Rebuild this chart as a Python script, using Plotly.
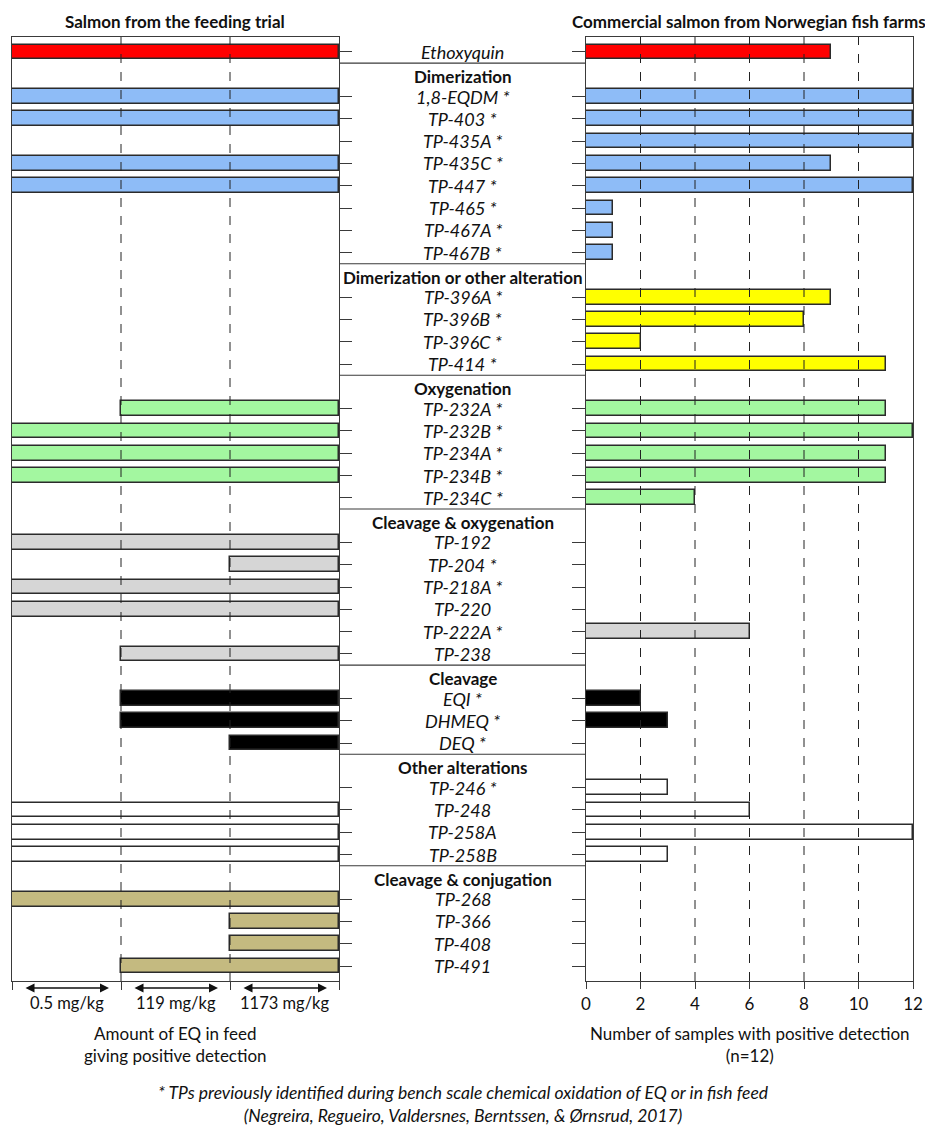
import plotly.graph_objects as go

# ---------------- data ----------------
group_names = ["", "Dimerization", "Dimerization or other alteration", "Oxygenation",
               "Cleavage & oxygenation", "Cleavage", "Other alterations", "Cleavage & conjugation"]
group_colors = ["#FF0000", "#8EBCF7", "#FFFF00", "#A3F7A0", "#D6D6D6", "#000000", "#FFFFFF", "#C4BA80"]

compounds = ["Ethoxyquin",
             "1,8-EQDM *", "TP-403 *", "TP-435A *", "TP-435C *", "TP-447 *", "TP-465 *", "TP-467A *", "TP-467B *",
             "TP-396A *", "TP-396B *", "TP-396C *", "TP-414 *",
             "TP-232A *", "TP-232B *", "TP-234A *", "TP-234B *", "TP-234C *",
             "TP-192", "TP-204 *", "TP-218A *", "TP-220", "TP-222A *", "TP-238",
             "EQI *", "DHMEQ *", "DEQ *",
             "TP-246 *", "TP-248", "TP-258A", "TP-258B",
             "TP-268", "TP-366", "TP-408", "TP-491"]
compound_group = [0,
                  1, 1, 1, 1, 1, 1, 1, 1,
                  2, 2, 2, 2,
                  3, 3, 3, 3, 3,
                  4, 4, 4, 4, 4, 4,
                  5, 5, 5,
                  6, 6, 6, 6,
                  7, 7, 7, 7]

# lowest feed level (index into dose_labels) giving positive detection; None = not detected
dose_labels = ["0.5 mg/kg", "119 mg/kg", "1173 mg/kg"]
lowest_dose = [0,
               0, 0, None, 0, 0, None, None, None,
               None, None, None, None,
               1, 0, 0, 0, None,
               0, 2, 0, 0, None, 1,
               1, 1, 2,
               None, 0, 0, 0,
               0, 2, 2, 1]

# number of commercial samples with positive detection (n=12)
farm_positive = [9,
                 12, 12, 12, 9, 12, 1, 1, 1,
                 9, 8, 2, 11,
                 11, 12, 11, 11, 4,
                 0, 0, 0, 0, 6, 0,
                 2, 3, 0,
                 3, 6, 12, 3,
                 0, 0, 0, 0]
n_samples = 12
farm_ticks = [0, 2, 4, 6, 8, 10, 12]

# ---------------- layout helpers ----------------
W, H = 925, 1127
FONT = "Lato"
LINE = "#3a3a3a"


def sx(x):
    return x / W


def sy(y):
    return 1 - y / H


# assign row slots: a header row precedes each group (except the first)
slots, header_slots, sep_slots = [], [], []
pos = 0
prev = None
for g in compound_group:
    if prev is not None and g != prev:
        sep_slots.append(pos - 0.5)
        header_slots.append((pos, group_names[g]))
        pos += 1
    slots.append(pos)
    pos += 1
    prev = g
n_slots = pos
yrange = [n_slots - 1 + 0.67, -0.67]

bar_colors = [group_colors[g] for g in compound_group]

fig = go.Figure()

# left panel bars
lx, lb, ly, lc = [], [], [], []
for s, d, c in zip(slots, lowest_dose, bar_colors):
    if d is not None:
        lx.append(len(dose_labels) - d)
        lb.append(d)
        ly.append(s)
        lc.append(c)
fig.add_trace(go.Bar(x=lx, base=lb, y=ly, orientation="h", width=0.66,
                     marker=dict(color=lc, line=dict(color="#2b2b2b", width=1.5)),
                     xaxis="x", yaxis="y", showlegend=False, hoverinfo="skip"))

# right panel bars
rx, ry, rc = [], [], []
for s, v, c in zip(slots, farm_positive, bar_colors):
    if v > 0:
        rx.append(v)
        ry.append(s)
        rc.append(c)
fig.add_trace(go.Bar(x=rx, y=ry, orientation="h", width=0.66,
                     marker=dict(color=rc, line=dict(color="#2b2b2b", width=1.5)),
                     xaxis="x2", yaxis="y2", showlegend=False, hoverinfo="skip"))

PANEL_TOP, PANEL_BOT = 37, 981
ydom = [sy(PANEL_BOT), sy(PANEL_TOP)]
L0, L1 = sx(12), sx(339)
R0, R1 = sx(586), sx(913)

axis_common = dict(showgrid=False, zeroline=False, showline=True, mirror=True, automargin=False,
                   linecolor=LINE, linewidth=1.2, tickcolor=LINE, tickwidth=1.2)

fig.update_layout(
    width=W, height=H, margin=dict(l=0, r=0, t=0, b=0, autoexpand=False),
    paper_bgcolor="white", plot_bgcolor="white", bargap=0,
    font=dict(family=FONT, color="#111", size=17),
    xaxis=dict(domain=[L0, L1], range=[0, len(dose_labels)],
               tickvals=list(range(len(dose_labels) + 1)), showticklabels=False,
               ticks="outside", ticklen=8, anchor="y", **axis_common),
    yaxis=dict(domain=ydom, range=yrange, tickvals=slots, showticklabels=False,
               ticks="outside", ticklen=12, side="right", anchor="x", **axis_common),
    xaxis2=dict(domain=[R0, R1], range=[0, n_samples], tickvals=farm_ticks,
                ticks="outside", ticklen=7, tickfont=dict(size=17, family=FONT),
                anchor="y2", **axis_common),
    yaxis2=dict(domain=ydom, range=yrange, tickvals=slots, showticklabels=False,
                ticks="outside", ticklen=13, side="left", anchor="x2", **axis_common),
)

shapes = []
# dashed gridlines above bars
for v in range(1, len(dose_labels)):
    shapes.append(dict(type="line", xref="x", yref="y domain", x0=v, x1=v, y0=0, y1=1,
                       line=dict(color="#222", width=1, dash="dash"), layer="above"))
for v in farm_ticks[1:-1]:
    shapes.append(dict(type="line", xref="x2", yref="y2 domain", x0=v, x1=v, y0=0, y1=1,
                       line=dict(color="#222", width=1, dash="dash"), layer="above"))
# section separators in the middle column
for s in sep_slots:
    shapes.append(dict(type="line", xref="paper", yref="y", x0=L1, x1=R0, y0=s, y1=s,
                       line=dict(color=LINE, width=1.2)))
fig.update_layout(shapes=shapes)

ann = []
mid = (L1 + R0) / 2
for s, name in zip(slots, compounds):
    ann.append(dict(x=mid, y=s, xref="paper", yref="y", text=f"<i>{name}</i>",
                    xanchor="center", yanchor="middle",
                    showarrow=False, font=dict(size=18, family=FONT)))
for s, name in header_slots:
    ann.append(dict(x=mid, y=s + 0.1, xref="paper", yref="y", text=f"<b>{name}</b>",
                    xanchor="center", yanchor="middle",
                    showarrow=False, font=dict(size=17, family=FONT)))

# panel titles
ann.append(dict(x=(L0 + L1) / 2, y=sy(22), xref="paper", yref="paper",
                xanchor="center", yanchor="middle",
                text="<b>Salmon from the feeding trial</b>", showarrow=False,
                font=dict(size=17, family=FONT)))
ann.append(dict(x=sx(570), y=sy(22), xref="paper", yref="paper", xanchor="left", yanchor="middle",
                text="<b>Commercial salmon from Norwegian fish farms</b>", showarrow=False,
                font=dict(size=17, family=FONT)))

# dose arrows and labels
arrow_y = -7 / (PANEL_BOT - PANEL_TOP)
for i, lab in enumerate(dose_labels):
    ann.append(dict(x=i + 0.89, y=arrow_y, xref="x", yref="y domain",
                    ax=i + 0.11, ay=arrow_y, axref="x", ayref="y domain",
                    text="", showarrow=True, arrowhead=2, arrowside="end+start",
                    arrowsize=1.2, arrowwidth=1.5, arrowcolor="#111"))
    ann.append(dict(x=i + 0.5, y=sy(1003), xref="x", yref="paper", text=lab,
                    xanchor="center", yanchor="middle",
                    showarrow=False, font=dict(size=16.5, family=FONT)))

# axis titles
ann.append(dict(x=(L0 + L1) / 2, y=sy(1044), xref="paper", yref="paper",
                xanchor="center", yanchor="middle",
                text="Amount of EQ in feed<br>giving positive detection", showarrow=False,
                font=dict(size=17, family=FONT)))
ann.append(dict(x=(R0 + R1) / 2, y=sy(1044), xref="paper", yref="paper",
                xanchor="center", yanchor="middle",
                text="Number of samples with positive detection<br>(n=12)", showarrow=False,
                font=dict(size=17, family=FONT)))

# footnote
ann.append(dict(x=sx(463), y=sy(1104), xref="paper", yref="paper",
                xanchor="center", yanchor="middle",
                text="<i>* TPs previously identified during bench scale chemical oxidation of EQ or in fish feed<br>"
                     "(Negreira, Regueiro, Valdersnes, Berntssen, &amp; Ørnsrud, 2017)</i>",
                showarrow=False, font=dict(size=17.5, family=FONT)))

fig.update_layout(annotations=ann)
# remove the default page margin so the 925x1127 figure fills the window exactly
fig.write_html("out.html", config={"displayModeBar": False},
               post_script="document.body.style.margin='0';")
